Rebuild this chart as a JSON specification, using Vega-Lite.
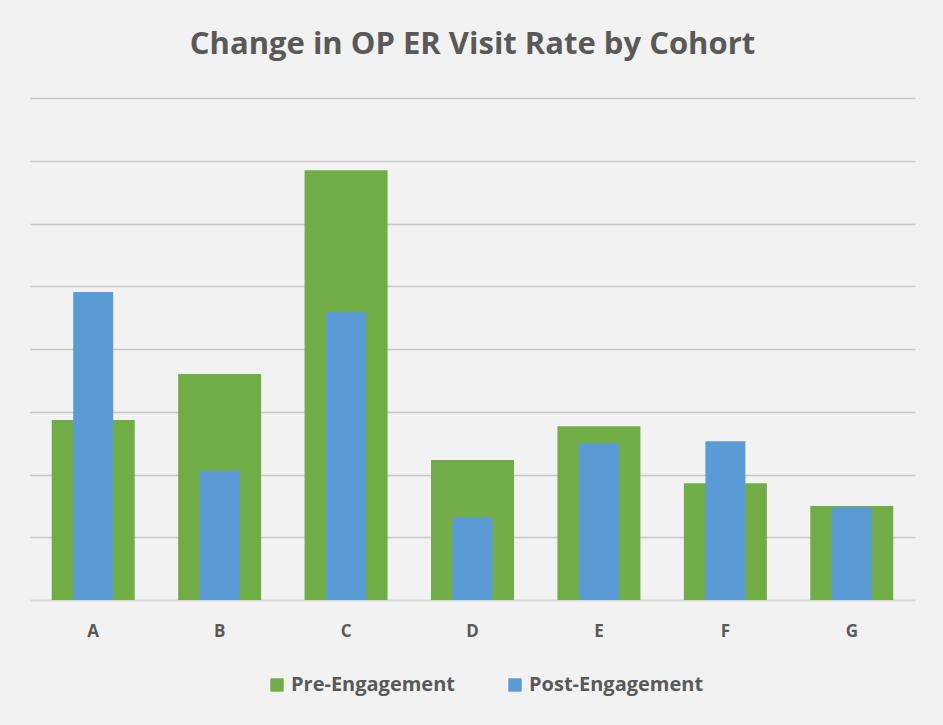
{
  "$schema": "https://vega.github.io/schema/vega-lite/v6.json",
  "width": 885,
  "height": 502,
  "autosize": {"type": "none"},
  "padding": {"left": 30, "top": 98, "right": 28, "bottom": 125},
  "background": "#f2f2f2",
  "title": {
    "text": "Change in OP ER Visit Rate by Cohort",
    "font": "Open Sans",
    "fontSize": 31,
    "fontWeight": "bold",
    "color": "#595959",
    "anchor": "middle",
    "offset": 37
  },
  "data": {
    "values": [
      {"cohort": "A", "series": "Pre-Engagement", "value": 2.87},
      {"cohort": "B", "series": "Pre-Engagement", "value": 3.60},
      {"cohort": "C", "series": "Pre-Engagement", "value": 6.85},
      {"cohort": "D", "series": "Pre-Engagement", "value": 2.23},
      {"cohort": "E", "series": "Pre-Engagement", "value": 2.77},
      {"cohort": "F", "series": "Pre-Engagement", "value": 1.86},
      {"cohort": "G", "series": "Pre-Engagement", "value": 1.50},
      {"cohort": "A", "series": "Post-Engagement", "value": 4.91},
      {"cohort": "B", "series": "Post-Engagement", "value": 2.06},
      {"cohort": "C", "series": "Post-Engagement", "value": 4.59},
      {"cohort": "D", "series": "Post-Engagement", "value": 1.32},
      {"cohort": "E", "series": "Post-Engagement", "value": 2.50},
      {"cohort": "F", "series": "Post-Engagement", "value": 2.53},
      {"cohort": "G", "series": "Post-Engagement", "value": 1.48}
    ]
  },
  "encoding": {
    "x": {
      "field": "cohort",
      "type": "nominal",
      "scale": {"paddingInner": 0, "paddingOuter": 0},
      "axis": {
        "title": null,
        "labelAngle": 0,
        "labelFont": "Open Sans",
        "labelFontSize": 17,
        "labelFontWeight": "bold",
        "labelColor": "#595959",
        "labelPadding": 23,
        "ticks": false,
        "domainColor": "#d9d9d9",
        "domainWidth": 2
      }
    },
    "y": {
      "field": "value",
      "type": "quantitative",
      "scale": {"domain": [0, 8], "nice": false},
      "axis": {
        "title": null,
        "labels": false,
        "ticks": false,
        "domain": false,
        "values": [1, 2, 3, 4, 5, 6, 7, 8],
        "grid": true,
        "gridColor": "#c8c8c8",
        "gridWidth": 1.5
      }
    },
    "color": {
      "field": "series",
      "type": "nominal",
      "scale": {"domain": ["Pre-Engagement", "Post-Engagement"], "range": ["#70ad47", "#5b9bd5"]},
      "legend": {
        "title": null,
        "orient": "none",
        "direction": "horizontal",
        "legendX": 237,
        "legendY": 577,
        "symbolType": "square",
        "symbolSize": 180,
        "symbolStrokeWidth": 0,
        "symbolOpacity": 1,
        "labelFont": "Open Sans",
        "labelFontSize": 20,
        "labelFontWeight": "bold",
        "labelColor": "#595959",
        "columnPadding": 49,
        "labelOffset": 4,
        "labelLimit": 300
      }
    }
  },
  "layer": [
    {
      "transform": [{"filter": "datum.series == 'Pre-Engagement'"}],
      "mark": {"type": "bar", "size": 83}
    },
    {
      "transform": [{"filter": "datum.series == 'Post-Engagement'"}],
      "mark": {"type": "bar", "size": 40}
    }
  ],
  "config": {"view": {"stroke": null}}
}
